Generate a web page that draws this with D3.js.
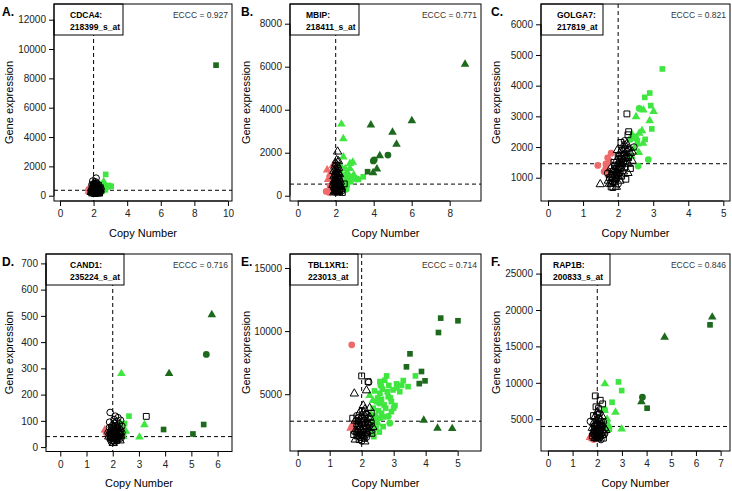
<!DOCTYPE html>
<html><head><meta charset="utf-8">
<script src="https://cdn.jsdelivr.net/npm/d3@7"></script>
<style>body{margin:0;background:#fff}svg{display:block;font-family:"Liberation Sans",Arial,sans-serif}</style>
</head><body><svg id="c" width="732" height="491"></svg>
<script>
// ===== DATA =====
// Panel A: CDCA4
const A_xTicks = [0,2,4,6,8,10];
const A_yTicks = [0,2000,4000,6000,8000,10000,12000];
const A_cut = 370;
const A_black = [[1.9,200,'c'],[1.95,300,'t'],[2.0,400,'s'],[2.05,500,'c'],[2.1,600,'t'],[2.15,350,'s'],[2.2,250,'c'],[2.25,450,'t'],[2.3,300,'s'],[2.35,550,'c'],[2.4,400,'t'],[1.85,350,'c'],[1.9,500,'t'],[1.95,650,'s'],[2.0,800,'c'],[2.05,700,'t'],[2.1,250,'c'],[2.15,750,'s'],[2.2,500,'t'],[2.25,650,'c'],[2.3,150,'t'],[2.0,150,'c'],[1.95,450,'c'],[2.05,350,'s'],[2.1,450,'t'],[2.2,850,'c'],[2.25,200,'s'],[2.35,350,'t'],[2.4,250,'c'],[1.9,750,'c'],[2.0,600,'t'],[2.15,550,'c'],[2.3,700,'s'],[2.45,450,'c'],[2.05,900,'t'],[1.95,1000,'c'],[2.15,1200,'c'],[2.1,950,'c'],[2.0,250,'t'],[2.1,150,'s'],[2.2,380,'c'],[1.88,280,'s'],[2.28,520,'c'],[2.12,820,'t'],[1.95,150,'t'],[2.05,200,'c'],[2.15,250,'t'],[2.25,300,'c'],[2.35,200,'s'],[1.9,400,'s'],[2.0,500,'t'],[2.1,350,'c'],[2.2,600,'s'],[2.3,450,'c'],[2.4,550,'s'],[1.85,250,'t'],[2.05,600,'c'],[2.15,650,'t'],[2.25,550,'s'],[1.95,550,'t'],[2.0,700,'s'],[2.1,700,'c'],[2.3,600,'t'],[2.2,150,'t']];
const A_red = [[1.7,400,'c'],[1.75,470,'c'],[1.8,330,'c'],[1.72,300,'t']];
const A_lgreen = [[2.72,1450,'s'],[3.05,650,'s'],[2.85,600,'s'],[2.55,800,'s'],[2.6,600,'s'],[2.45,500,'s'],[2.7,400,'s'],[2.9,700,'s'],[2.5,300,'s'],[2.6,950,'t'],[2.4,700,'t'],[2.5,420,'c']];
const A_dgreen = [[9.29,8900,'s']];

// Panel B: MBIP
const B_xTicks = [0,2,4,6,8];
const B_yTicks = [0,2000,4000,6000,8000];
const B_cut = 540;
const B_black = [[2.1,2050,'t'],[2.05,1650,'t'],[2.15,1600,'t'],[1.95,1350,'t'],[2.0,1500,'t'],[2.1,1400,'t'],[2.05,1200,'t'],[2.0,1100,'t'],[2.15,1050,'t'],[1.95,950,'t'],[2.1,900,'t'],[2.0,800,'t'],[2.2,750,'t'],[2.05,700,'t'],[1.9,650,'t'],[2.1,600,'t'],[2.0,550,'t'],[2.2,500,'t'],[2.15,450,'t'],[1.95,400,'t'],[2.05,350,'t'],[2.25,300,'t'],[2.1,250,'t'],[2.0,200,'t'],[1.9,150,'t'],[2.15,150,'t'],[2.3,400,'t'],[2.2,1000,'t'],[1.85,500,'t'],[2.05,1000,'t'],[2.25,650,'t'],[2.1,1250,'t'],[2.0,300,'t'],[1.9,1150,'t'],[2.15,800,'t'],[2.0,600,'c'],[2.1,350,'c'],[2.2,200,'c'],[1.95,250,'c'],[2.45,550,'s'],[2.3,250,'s'],[2.2,350,'s'],[2.35,150,'s'],[2.0,950,'s'],[1.95,200,'t'],[2.05,250,'t'],[2.15,300,'t'],[2.0,400,'t'],[2.1,500,'t'],[1.95,600,'t'],[2.05,800,'t'],[2.15,900,'t'],[1.95,750,'t'],[2.1,1100,'t'],[2.0,1250,'t'],[2.15,1300,'t'],[1.9,900,'t'],[2.2,600,'t'],[2.25,450,'t'],[2.05,150,'t'],[2.2,250,'s'],[1.9,350,'c']];
const B_red = [[1.55,1200,'t'],[1.7,1000,'t'],[1.6,750,'t'],[1.8,600,'t'],[1.5,200,'c'],[1.65,150,'c'],[1.75,300,'t'],[1.85,1400,'t'],[1.7,450,'c']];
const B_lgreen = [[2.3,3330,'t'],[2.4,2650,'t'],[2.4,1800,'t'],[2.75,1500,'t'],[2.9,1560,'t'],[2.75,1270,'t'],[2.25,1400,'t'],[2.95,960,'t'],[2.6,1100,'t'],[2.5,1250,'t'],[2.55,800,'t'],[2.35,950,'t'],[2.7,700,'t'],[2.45,600,'t'],[3.45,880,'s'],[3.2,760,'s'],[2.6,500,'s'],[2.8,650,'s'],[2.5,350,'s'],[3.0,800,'s'],[3.1,780,'c'],[2.65,900,'c'],[2.4,450,'c'],[2.55,300,'c'],[2.85,850,'c']];
const B_dgreen = [[8.81,6110,'t'],[6.01,3490,'t'],[3.85,3290,'t'],[4.99,2950,'t'],[5.2,2390,'t'],[4.75,1890,'c'],[4.32,1860,'t'],[4.03,1670,'c'],[3.98,1620,'c'],[4.17,1240,'t'],[3.97,1070,'t'],[3.68,1116,'s']];

// Panel C: GOLGA7
const C_xTicks = [0,1,2,3,4,5];
const C_yTicks = [1000,2000,3000,4000,5000,6000];
const C_cut = 1456;
const C_black = [[1.75,800,'t'],[1.8,700,'s'],[1.85,680,'s'],[1.8,900,'c'],[1.85,1000,'t'],[1.9,850,'t'],[1.9,1100,'s'],[1.95,950,'c'],[1.95,1200,'t'],[2.0,1050,'t'],[2.0,1300,'s'],[2.05,1150,'c'],[2.05,1450,'t'],[2.1,1300,'t'],[2.1,1600,'s'],[2.15,1500,'c'],[2.15,1750,'t'],[2.2,1650,'t'],[2.2,1950,'s'],[2.25,1850,'c'],[2.25,2100,'t'],[2.15,2050,'t'],[2.1,1900,'c'],[2.05,1800,'t'],[2.0,1700,'s'],[1.95,1550,'t'],[1.9,1400,'c'],[1.85,1250,'t'],[1.8,1100,'t'],[1.75,1000,'s'],[1.7,1150,'c'],[1.78,1300,'t'],[1.88,1500,'s'],[1.98,1900,'t'],[2.08,2150,'s'],[2.18,2200,'c'],[2.3,1950,'t'],[2.35,1800,'t'],[2.3,1650,'s'],[2.25,1500,'t'],[2.2,1350,'c'],[2.15,1200,'t'],[2.1,1050,'s'],[2.05,900,'t'],[2.0,800,'c'],[1.95,700,'t'],[2.3,1450,'t'],[2.35,1300,'s'],[2.4,1550,'t'],[2.28,1150,'t'],[2.22,950,'s'],[1.92,1000,'t'],[2.02,1150,'s'],[2.12,1400,'c'],[2.22,1700,'t'],[1.82,1200,'s'],[1.72,900,'t'],[2.4,1850,'t'],[2.45,2000,'c'],[2.25,3080,'s'],[2.3,2500,'s'],[2.28,2400,'s'],[1.49,785,'t'],[1.8,800,'t'],[1.9,950,'t'],[2.0,1150,'t'],[2.1,1450,'t'],[2.2,1800,'t'],[1.85,1100,'s'],[1.95,1350,'t'],[2.05,1600,'s'],[2.15,1900,'t'],[2.0,1450,'c'],[2.1,1700,'t'],[1.9,1250,'t'],[2.25,1650,'t'],[1.85,850,'c'],[2.05,1300,'t'],[2.15,1600,'t'],[1.95,1100,'s'],[2.2,2050,'t']];
const C_red = [[1.42,1400,'c'],[1.7,1650,'c'],[1.65,1300,'c'],[1.6,1200,'c'],[1.7,1100,'s'],[1.75,1550,'s'],[1.8,1800,'c'],[1.65,1450,'c']];
const C_lgreen = [[3.26,4545,'s'],[2.9,3760,'s'],[2.76,3620,'s'],[2.93,3350,'s'],[2.96,2590,'s'],[2.77,2250,'s'],[2.45,2350,'s'],[2.55,2200,'s'],[2.6,3260,'c'],[2.86,1590,'c'],[2.57,1380,'c'],[2.44,2320,'c'],[2.35,2250,'c'],[2.5,2300,'c'],[2.51,2990,'t'],[2.72,3210,'t'],[3.01,3160,'t'],[2.9,2860,'t'],[2.68,2530,'t'],[2.6,2450,'t'],[2.71,2120,'t'],[2.59,1820,'t'],[2.45,1950,'t'],[2.55,2100,'t'],[2.38,1700,'t'],[2.4,2400,'t']];
const C_dgreen = [];

// Panel D: CAND1
const D_xTicks = [0,1,2,3,4,5,6];
const D_yTicks = [0,100,200,300,400,500,600,700];
const D_cut = 40;
const D_black = [[1.85,40,'t'],[1.9,30,'c'],[1.95,50,'s'],[2.0,35,'t'],[2.05,60,'c'],[2.1,45,'t'],[2.15,25,'s'],[2.2,55,'c'],[2.25,40,'t'],[2.3,65,'c'],[1.9,60,'t'],[1.95,20,'c'],[2.0,70,'s'],[2.05,30,'t'],[2.1,80,'c'],[2.15,50,'t'],[2.2,30,'s'],[2.25,70,'c'],[2.3,45,'t'],[2.35,55,'c'],[1.88,75,'c'],[1.98,85,'t'],[2.08,20,'c'],[2.18,75,'s'],[2.28,25,'t'],[2.0,50,'c'],[2.12,60,'s'],[2.22,45,'t'],[1.92,45,'s'],[2.02,15,'t'],[2.17,35,'c'],[2.27,55,'t'],[2.07,90,'c'],[1.97,65,'t'],[2.12,30,'t'],[2.32,35,'c'],[1.82,55,'c'],[1.9,132,'c'],[1.88,95,'c'],[2.1,118,'c'],[2.2,112,'c'],[2.3,102,'c'],[2.05,105,'c'],[2.15,98,'c'],[2.25,88,'c'],[2.35,80,'c'],[3.28,117,'s'],[1.9,40,'c'],[2.0,25,'s'],[2.1,35,'c'],[2.2,40,'t'],[1.95,35,'t'],[2.05,45,'s'],[2.15,65,'c'],[2.25,50,'s'],[2.05,75,'t'],[1.95,75,'c'],[2.15,80,'t'],[2.1,55,'t'],[2.0,60,'c'],[2.3,55,'t'],[1.9,50,'s']];
const D_red = [[1.7,65,'t'],[1.75,55,'c']];
const D_lgreen = [[2.62,118,'s'],[2.45,90,'s'],[2.35,75,'s'],[2.33,280,'t'],[3.21,85,'t'],[3.02,38,'t'],[2.4,40,'t'],[2.3,88,'t'],[2.5,60,'t'],[2.4,50,'c']];
const D_dgreen = [[5.78,504,'t'],[4.15,280,'t'],[5.57,353,'c'],[3.94,67,'s'],[5.06,50,'s'],[5.47,86,'s']];

// Panel E: TBL1XR1
const E_xTicks = [0,1,2,3,4,5];
const E_yTicks = [5000,10000,15000];
const E_cut = 2860;
const E_black = [[2.0,6450,'s'],[2.2,6000,'s'],[2.22,5950,'c'],[1.77,5050,'t'],[2.15,5300,'t'],[2.05,4100,'t'],[2.25,3900,'t'],[2.1,3800,'t'],[1.72,3100,'s'],[1.95,3600,'t'],[2.3,3500,'s'],[1.85,3300,'c'],[2.0,3300,'t'],[2.15,3400,'c'],[2.25,3200,'t'],[1.8,2900,'t'],[1.9,2800,'s'],[2.05,2900,'c'],[2.2,2800,'t'],[2.3,2700,'s'],[1.85,2500,'c'],[1.95,2400,'t'],[2.1,2500,'s'],[2.2,2300,'c'],[1.8,2100,'t'],[1.9,2000,'c'],[2.0,2100,'t'],[2.15,2000,'s'],[2.25,2100,'t'],[1.85,1700,'s'],[1.95,1600,'c'],[2.05,1700,'t'],[2.15,1600,'c'],[1.8,1400,'t'],[2.0,1300,'c'],[2.1,1250,'t'],[2.0,2600,'c'],[2.1,3000,'t'],[1.9,3100,'c'],[2.05,2300,'s'],[1.95,1900,'t'],[2.18,1850,'c'],[2.35,2400,'t'],[2.32,1900,'s'],[1.75,1800,'s'],[2.08,1500,'s'],[1.92,1400,'s'],[2.02,3700,'c'],[2.12,2700,'c'],[1.88,2250,'t'],[1.9,2600,'t'],[2.0,2800,'s'],[2.1,2200,'t'],[2.2,2600,'c'],[1.85,2000,'t'],[1.95,2200,'s'],[2.05,2000,'c'],[2.15,2400,'t'],[2.0,1800,'s'],[2.1,1900,'t'],[2.25,2500,'c'],[1.9,1700,'t'],[2.0,1550,'t'],[2.1,3200,'s'],[1.95,3000,'t'],[2.2,3100,'c'],[2.05,3500,'t'],[1.85,2900,'s']];
const E_red = [[1.69,8910,'c'],[1.65,2300,'t'],[1.72,2600,'t'],[1.78,2200,'t'],[1.7,2400,'c']];
const E_lgreen = [[3.68,6450,'s'],[3.3,6080,'s'],[3.09,5820,'s'],[2.78,6450,'s'],[2.57,6000,'s'],[2.72,6100,'s'],[2.98,5340,'s'],[2.57,5080,'s'],[2.4,5260,'s'],[2.83,4810,'s'],[2.93,4410,'s'],[2.7,4150,'s'],[2.46,4410,'s'],[2.36,3890,'s'],[2.62,3490,'s'],[2.93,3620,'s'],[2.46,2830,'s'],[2.67,2430,'s'],[2.36,2170,'s'],[2.38,1640,'s'],[2.57,3100,'s'],[3.04,4100,'s'],[3.19,5200,'s'],[3.45,5600,'s'],[3.1,5500,'s'],[2.85,5700,'s'],[2.65,5400,'s'],[2.5,4700,'s'],[2.75,3900,'s'],[2.55,2000,'s'],[2.3,2600,'s'],[2.42,3300,'s'],[2.9,4700,'s'],[2.62,4600,'s'],[3.0,3900,'s'],[2.52,3700,'s'],[2.68,3200,'s'],[2.45,2300,'s'],[2.33,1900,'s'],[2.8,5200,'s'],[3.25,5700,'s'],[2.88,2700,'c'],[2.83,3250,'c'],[2.6,5700,'c'],[2.55,4300,'c'],[2.4,3000,'c'],[2.25,4900,'t'],[2.3,3400,'t'],[2.35,4500,'t'],[2.5,2700,'t']];
const E_dgreen = [[4.47,11030,'s'],[5.01,10820,'s'],[4.4,9890,'s'],[3.51,8200,'s'],[3.4,7170,'s'],[3.87,6800,'s'],[3.98,6060,'s'],[3.8,5840,'s'],[3.94,2940,'t'],[4.37,2300,'t'],[4.83,2275,'t']];

// Panel F: RAP1B
const F_xTicks = [0,1,2,3,4,5,6,7];
const F_yTicks = [5000,10000,15000,20000,25000];
const F_cut = 4000;
const F_black = [[1.92,8200,'s'],[2.12,7600,'s'],[2.22,7100,'s'],[1.95,6700,'s'],[2.05,6450,'s'],[1.85,5500,'s'],[1.72,4700,'c'],[2.0,6000,'t'],[2.1,5800,'c'],[1.9,5300,'t'],[2.05,5100,'s'],[2.2,5400,'t'],[1.95,4800,'c'],[2.15,4900,'t'],[1.85,4500,'t'],[2.0,4400,'s'],[2.25,4600,'c'],[1.9,4100,'c'],[2.1,4200,'t'],[2.2,4000,'s'],[1.8,3800,'t'],[1.95,3700,'s'],[2.05,3900,'t'],[2.15,3600,'c'],[2.3,3800,'t'],[1.85,3300,'c'],[2.0,3400,'t'],[2.1,3200,'s'],[2.25,3300,'t'],[1.9,3000,'t'],[2.05,2900,'c'],[2.2,2800,'t'],[1.8,2700,'s'],[1.95,2600,'t'],[2.1,2500,'c'],[2.25,2400,'s'],[2.0,2300,'t'],[2.15,2200,'c'],[1.9,2400,'t'],[2.3,3000,'c'],[2.35,3500,'t'],[2.0,5600,'c'],[1.95,3200,'c'],[2.1,3500,'s'],[2.18,4300,'t'],[2.02,2600,'s'],[1.88,3600,'s'],[1.9,3500,'t'],[2.0,3700,'c'],[2.1,3900,'s'],[2.2,3500,'t'],[1.95,3000,'s'],[2.05,3200,'t'],[2.15,3000,'c'],[2.0,2800,'t'],[1.9,2700,'c'],[2.1,2700,'t'],[2.2,3200,'s'],[2.0,4200,'t'],[2.1,4600,'c'],[1.95,4300,'t'],[2.15,4100,'s'],[2.05,2500,'t'],[1.85,3000,'t']];
const F_red = [[1.7,2500,'t'],[1.8,2300,'t'],[1.75,2700,'t'],[1.85,2200,'c']];
const F_lgreen = [[2.31,9850,'t'],[2.74,5960,'t'],[2.99,3660,'t'],[2.3,6200,'t'],[2.4,5000,'t'],[2.25,4400,'t'],[2.45,4200,'t'],[2.86,10120,'s'],[2.99,8930,'s'],[2.6,7330,'s'],[2.49,3620,'s'],[2.3,4000,'s'],[2.3,6300,'c'],[2.35,4700,'c']];
const F_dgreen = [[6.66,19020,'t'],[4.73,16270,'t'],[3.79,7410,'t'],[6.57,17960,'s'],[4.02,6510,'s'],[3.83,8020,'c']];

const letters = ['A.','B.','C.','D.','E.','F.'];
const genes = ['CDCA4:','MBIP:','GOLGA7:','CAND1:','TBL1XR1:','RAP1B:'];
const probes = ['218399_s_at','218411_s_at','217819_at','235224_s_at','223013_at','200833_s_at'];
const ecccs = ['0.927','0.771','0.821','0.716','0.714','0.846'];

// ===== LAYOUT =====
const panels = [
 {box:[54,232,4,201], xd:[-0.357,10.24], yd:[-361,13070], xt:A_xTicks, yt:A_yTicks, cut:A_cut, black:A_black, red:A_red, lg:A_lgreen, dg:A_dgreen, lb:[54,69,70], ytx:9, lx:2},
 {box:[290,481,4,201], xd:[-0.406,9.65], yd:[-246,8916], xt:B_xTicks, yt:B_yTicks, cut:B_cut, black:B_black, red:B_red, lg:B_lgreen, dg:B_dgreen, lb:[290,69,306], ytx:246, lx:241},
 {box:[541,730,4,201], xd:[-0.2,5.19], yd:[241,6662], xt:C_xTicks, yt:C_yTicks, cut:C_cut, black:C_black, red:C_red, lg:C_lgreen, dg:C_dgreen, lb:[541,62,557], ytx:496, lx:491},
 {box:[46,232,254,451.5], xd:[-0.545,6.55], yd:[-16.8,735.8], xt:D_xTicks, yt:D_yTicks, cut:D_cut, black:D_black, red:D_red, lg:D_lgreen, dg:D_dgreen, lb:[46,78,70], ytx:9, lx:2},
 {box:[290,481,254,451], xd:[-0.24,5.73], yd:[500,16111], xt:E_xTicks, yt:E_yTicks, cut:E_cut, black:E_black, red:E_red, lg:E_lgreen, dg:E_dgreen, lb:[290,68,308], ytx:246, lx:241},
 {box:[541,730,254,451], xd:[-0.28,7.38], yd:[633,27689], xt:F_xTicks, yt:F_yTicks, cut:F_cut, black:F_black, red:F_red, lg:F_lgreen, dg:F_dgreen, lb:[541,69,553], ytx:496, lx:491}
];

const svg = d3.select('#c');
const COL = {red:'#ef6b6b', lg:'#3fe63f', dg:'#1d6a1d'};
const symType = {c:d3.symbolCircle, s:d3.symbolSquare, t:d3.symbolTriangle};
const symSize = {c:34, s:34, t:30};
const symSizeF = {c:36, s:32, t:32};

panels.forEach((p,i)=>{
  const [x0,x1,y0,y1] = p.box;
  const x = d3.scaleLinear().domain(p.xd).range([x0,x1]);
  const y = d3.scaleLinear().domain(p.yd).range([y1,y0]);
  const g = svg.append('g');

  g.append('line').attr('x1',x(2)).attr('x2',x(2)).attr('y1',y0).attr('y2',y1)
    .attr('stroke','#000').attr('stroke-dasharray','4,3').attr('stroke-width',1);
  g.append('line').attr('x1',x0).attr('x2',x1).attr('y1',y(p.cut)).attr('y2',y(p.cut))
    .attr('stroke','#000').attr('stroke-dasharray','4,3').attr('stroke-width',1);

  const drawFilled = (arr,col)=>{
    g.selectAll(null).data(arr).enter().append('path')
      .attr('d',d=>d3.symbol().type(symType[d[2]]).size(symSizeF[d[2]])())
      .attr('transform',d=>`translate(${x(d[0])},${y(d[1])})`)
      .attr('fill',col).attr('stroke','none');
  };
  drawFilled(p.lg,COL.lg);
  drawFilled(p.red,COL.red);
  drawFilled(p.dg,COL.dg);
  g.selectAll(null).data(p.black).enter().append('path')
    .attr('d',d=>d3.symbol().type(symType[d[2]]).size(symSize[d[2]])())
    .attr('transform',d=>`translate(${x(d[0])},${y(d[1])})`)
    .attr('fill','none').attr('stroke','#000').attr('stroke-width',1);

  const [lbx,lbw,ltx] = p.lb;
  g.append('rect').attr('x',lbx).attr('y',y0).attr('width',lbw).attr('height',31)
    .attr('fill','#fff').attr('stroke','#000').attr('stroke-width',1);
  g.append('text').attr('x',ltx).attr('y',y0+14).attr('font-size',8.5).attr('font-weight','bold').text(genes[i]);
  g.append('text').attr('x',ltx).attr('y',y0+26).attr('font-size',8.5).attr('font-weight','bold').text(probes[i]);
  g.append('text').attr('x',x1-4).attr('y',y0+14).attr('font-size',8.5).attr('text-anchor','end')
    .attr('fill','#333').text('ECCC = '+ecccs[i]);

  g.append('rect').attr('x',x0).attr('y',y0).attr('width',x1-x0).attr('height',y1-y0)
    .attr('fill','none').attr('stroke','#000').attr('stroke-width',1);

  const xa = d3.axisBottom(x).tickValues(p.xt).tickSize(5).tickPadding(4).tickFormat(d3.format('d'));
  const gx = g.append('g').attr('transform',`translate(0,${y1})`).call(xa);
  gx.select('.domain').attr('d',`M${x(p.xt[0])},0H${x(p.xt[p.xt.length-1])}`);
  const ya = d3.axisLeft(y).tickValues(p.yt).tickSize(5).tickPadding(3).tickFormat(d3.format('d'));
  const gy = g.append('g').attr('transform',`translate(${x0},0)`).call(ya);
  gy.select('.domain').attr('d',`M0,${y(p.yt[0])}V${y(p.yt[p.yt.length-1])}`);
  [gx,gy].forEach(a=>{a.selectAll('text').attr('font-size',10).attr('fill','#222').attr('font-family','Liberation Sans, Arial, sans-serif');});

  g.append('text').attr('x',(x0+x1)/2).attr('y',y1+35.5).attr('text-anchor','middle')
    .attr('font-size',11).text('Copy Number');
  g.append('text').attr('transform',`translate(${p.ytx+4},${(y0+y1)/2}) rotate(-90)`).attr('text-anchor','middle')
    .attr('font-size',11).text('Gene expression');
  svg.append('text').attr('x',p.lx).attr('y',y0+12).attr('font-size',12).attr('font-weight','bold').text(letters[i]);
});
</script></body></html>
